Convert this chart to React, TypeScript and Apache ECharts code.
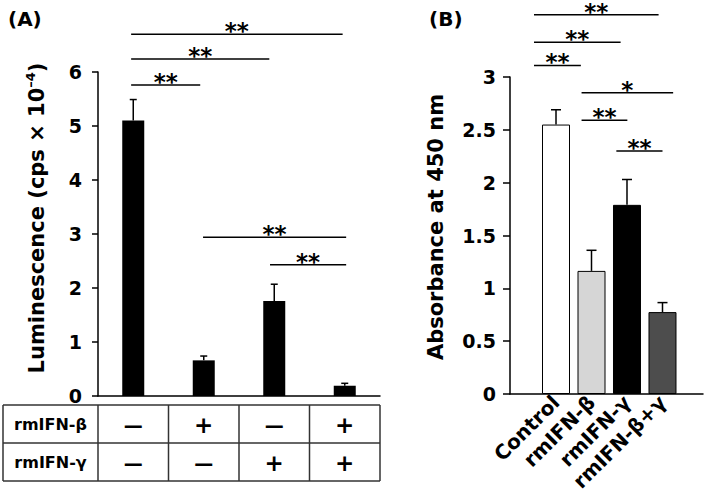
import React, { useEffect, useRef } from "react";
import * as echarts from "echarts";

const FONT = "DejaVu Sans";

// Panel A
const betaA = ["—", "+", "—", "+"];
const gammaA = ["—", "—", "+", "+"];
const rowHeadersA = ["rmIFN-β", "rmIFN-γ"];
const lumMean = [5.1, 0.66, 1.76, 0.19];
const lumSd = [0.39, 0.08, 0.31, 0.045];
const yTicksA = [0, 1, 2, 3, 4, 5, 6];
// brackets: [from, to, y]
const bracketsA = [
  [-0.03, 2.97, 6.7],
  [-0.03, 1.93, 6.24],
  [-0.03, 0.95, 5.76],
  [0.99, 3.02, 2.94],
  [1.94, 3.02, 2.43],
];
const bracketLabelsA = ["**", "**", "**", "**", "**"];

// Panel B
const catsB = ["Control", "rmIFN-β", "rmIFN-γ", "rmIFN-β+γ"];
const absMean = [2.55, 1.165, 1.79, 0.775];
const absSd = [0.14, 0.195, 0.24, 0.09];
const colorsB = ["#ffffff", "#d6d6d6", "#000000", "#4d4d4d"];
const bracketsB = [
  [-0.62, 2.89, 3.59],
  [-0.62, 1.82, 3.33],
  [-0.62, 0.7, 3.11],
  [0.72, 3.3, 2.85],
  [0.72, 2.01, 2.59],
  [1.7, 3.0, 2.3],
];
const bracketLabelsB = ["**", "**", "**", "*", "**", "**"];

function errorRender(cap: number) {
  return (params: any, api: any) => {
    const x = api.value(0);
    const v = api.value(1);
    const e = api.value(2);
    const p0 = api.coord([x, v]);
    const p1 = api.coord([x, e]);
    const st = { stroke: "#000", lineWidth: 1.5 };
    return {
      type: "group",
      children: [
        { type: "line", shape: { x1: p0[0], y1: p0[1], x2: p1[0], y2: p1[1] }, style: st },
        { type: "line", shape: { x1: p1[0] - cap, y1: p1[1], x2: p1[0] + cap, y2: p1[1] }, style: st },
      ],
    };
  };
}

function bracketRender(labels: string[]) {
  return (params: any, api: any) => {
    const p1 = api.coord([api.value(0), api.value(2)]);
    const p2 = api.coord([api.value(1), api.value(2)]);
    return {
      type: "group",
      children: [
        { type: "line", shape: { x1: p1[0], y1: p1[1], x2: p2[0], y2: p2[1] }, style: { stroke: "#000", lineWidth: 1.5 } },
        {
          type: "text",
          style: {
            text: labels[params.dataIndex],
            x: (p1[0] + p2[0]) / 2,
            y: p1[1] - 3,
            align: "center",
            verticalAlign: "middle",
            textAlign: "center",
            textVerticalAlign: "middle",
            fontSize: 23,
            lineHeight: 14,
            fontWeight: "bold",
            fontFamily: FONT,
            fill: "#000",
          },
        },
      ],
    };
  };
}

function tableRender(params: any, api: any) {
  const y0 = api.coord([0, 0])[1];
  const xs = [-0.5, 0.5, 1.5, 2.5, 3.5].map((b) => api.coord([b, 0])[0]);
  const left = 3;
  const rows = [y0 + 9, y0 + 47, y0 + 85];
  const st = { stroke: "#333", lineWidth: 1.5 };
  const children: any[] = [];
  rows.forEach((r) => children.push({ type: "line", shape: { x1: left, y1: r, x2: xs[4], y2: r }, style: st }));
  [left, ...xs].forEach((x) =>
    children.push({ type: "line", shape: { x1: x, y1: rows[0], x2: x, y2: rows[2] }, style: st })
  );
  rowHeadersA.forEach((h, i) =>
    children.push({
      type: "text",
      style: {
        text: h,
        x: (left + xs[0]) / 2,
        y: (rows[i] + rows[i + 1]) / 2,
        align: "center",
        verticalAlign: "middle",
        textAlign: "center",
        textVerticalAlign: "middle",
        fontSize: 16,
        fontWeight: "bold",
        fontFamily: FONT,
        fill: "#000",
      },
    })
  );
  return { type: "group", children };
}

export default function App() {
  const ref = useRef<HTMLDivElement>(null);
  useEffect(() => {
    if (!ref.current) return;
    const chart = echarts.init(ref.current, null, { renderer: "svg" });
    const axisLineStyle = { color: "#000", width: 1.5 };
    const option: any = {
      animation: false,
      textStyle: { fontFamily: FONT, color: "#000" },
      title: [
        { text: "(A)", left: 3, top: 4, textStyle: { fontSize: 20, fontWeight: "bold", color: "#000", fontFamily: FONT } },
        { text: "(B)", left: 424, top: 4, textStyle: { fontSize: 20, fontWeight: "bold", color: "#000", fontFamily: FONT } },
      ],
      grid: [
        { left: 98, right: 329, top: 72, bottom: 98, containLabel: false, outerBoundsMode: "none" },
        { left: 510, right: 6, top: 77, bottom: 100, containLabel: false, outerBoundsMode: "none" },
      ],
      xAxis: [
        {
          gridIndex: 0,
          type: "value",
          min: -0.5,
          max: 3.5,
          splitLine: { show: false },
          axisLine: { show: true, onZero: false, lineStyle: axisLineStyle },
          axisTick: { show: false },
          axisLabel: {
            customValues: [0, 1, 2, 3],
            margin: 10,
            formatter: (v: number) => {
              const t1 = betaA[v] === "+" ? "p" : "d";
              const t2 = gammaA[v] === "+" ? "p" : "d";
              return `{${t1}|${betaA[v]}}\n{${t2}|${gammaA[v]}}`;
            },
            rich: {
              d: { fontSize: 19, fontWeight: "bold", lineHeight: 38, color: "#000", fontFamily: FONT },
              p: { fontSize: 23, fontWeight: "bold", lineHeight: 38, color: "#000", fontFamily: FONT },
            },
          },
        },
        {
          gridIndex: 1,
          type: "value",
          min: -1.296,
          max: 4.141,
          splitLine: { show: false },
          axisLine: { show: true, onZero: false, lineStyle: axisLineStyle },
          axisTick: { show: false },
          axisLabel: {
            customValues: [0, 1, 2, 3],
            rotate: 45,
            margin: 5,
            formatter: (v: number) => catsB[v],
            fontSize: 20,
            fontWeight: "bold",
            color: "#000",
            fontFamily: FONT,
          },
        },
      ],
      yAxis: [
        {
          gridIndex: 0,
          type: "value",
          min: yTicksA[0],
          max: yTicksA[yTicksA.length - 1],
          interval: 1,
          splitLine: { show: false },
          axisLine: { show: true, onZero: false, lineStyle: axisLineStyle },
          axisTick: { show: true, length: 6, lineStyle: axisLineStyle },
          axisLabel: { fontSize: 19, fontWeight: "bold", color: "#000", margin: 16, fontFamily: FONT },
          name: "{a|Luminescence (cps × 10}{s|–4}{a|)}",
          nameLocation: "middle",
          nameGap: 48,
          nameTextStyle: {
            padding: [0, 0, 0, 32],
            rich: {
              a: { fontSize: 21, fontWeight: "bold", color: "#000", fontFamily: FONT, lineHeight: 26 },
              s: { fontSize: 13, fontWeight: "bold", color: "#000", fontFamily: FONT, verticalAlign: "top", lineHeight: 26 },
            },
          },
        },
        {
          gridIndex: 1,
          type: "value",
          min: 0,
          max: 3,
          interval: 0.5,
          splitLine: { show: false },
          axisLine: { show: true, onZero: false, lineStyle: axisLineStyle },
          axisTick: { show: true, length: 7, lineStyle: axisLineStyle },
          axisLabel: { fontSize: 19, fontWeight: "bold", color: "#000", margin: 14, fontFamily: FONT },
          name: "Absorbance at 450 nm",
          nameLocation: "middle",
          nameGap: 64,
          nameTextStyle: { fontSize: 21, fontWeight: "bold", color: "#000", fontFamily: FONT, padding: [0, 0, 0, 17] },
        },
      ],
      series: [
        {
          type: "bar",
          xAxisIndex: 0,
          yAxisIndex: 0,
          barWidth: 22,
          itemStyle: { color: "#000" },
          data: lumMean.map((v, i) => [i, v]),
        },
        {
          type: "custom",
          xAxisIndex: 0,
          yAxisIndex: 0,
          clip: false,
          silent: true,
          renderItem: errorRender(3.5),
          data: lumMean.map((v, i) => [i, v, v + lumSd[i]]),
        },
        {
          type: "custom",
          xAxisIndex: 0,
          yAxisIndex: 0,
          clip: false,
          silent: true,
          encode: { x: [0, 1], y: 2 },
          renderItem: bracketRender(bracketLabelsA),
          data: bracketsA,
        },
        {
          type: "custom",
          xAxisIndex: 0,
          yAxisIndex: 0,
          clip: false,
          silent: true,
          renderItem: tableRender,
          data: [[0, 0]],
        },
        {
          type: "bar",
          xAxisIndex: 1,
          yAxisIndex: 1,
          barWidth: 28,
          itemStyle: { borderColor: "#000", borderWidth: 1 },
          data: absMean.map((v, i) => ({ value: [i, v], itemStyle: { color: colorsB[i], borderColor: "#000", borderWidth: 1 } })),
        },
        {
          type: "custom",
          xAxisIndex: 1,
          yAxisIndex: 1,
          clip: false,
          silent: true,
          renderItem: errorRender(5),
          data: absMean.map((v, i) => [i, v, v + absSd[i]]),
        },
        {
          type: "custom",
          xAxisIndex: 1,
          yAxisIndex: 1,
          clip: false,
          silent: true,
          encode: { x: [0, 1], y: 2 },
          renderItem: bracketRender(bracketLabelsB),
          data: bracketsB,
        },
      ],
    };
    chart.setOption(option);
    return () => chart.dispose();
  }, []);
  return (
    <div
      ref={ref}
      style={{ position: "absolute", left: 0, top: 0, width: 709, height: 494, background: "#fff" }}
    />
  );
}
